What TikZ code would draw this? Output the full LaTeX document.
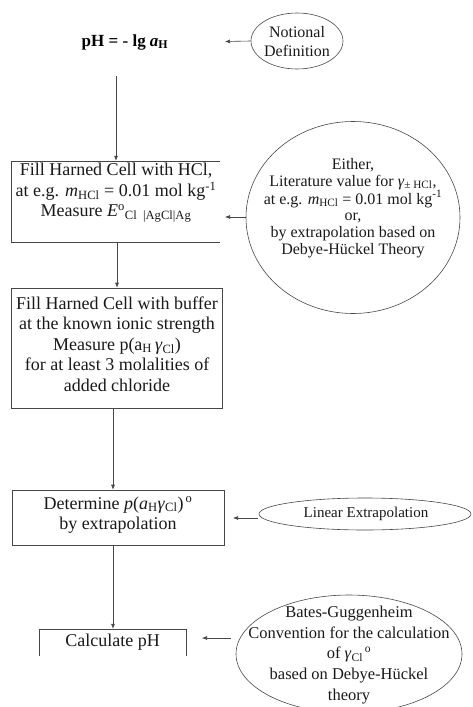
\documentclass[tikz,border=0pt]{standalone}
\usepackage{fontspec}
\setmainfont{Liberation Serif}
\usetikzlibrary{arrows.meta,shapes.geometric}
\begin{document}
\begin{tikzpicture}[x=1pt,y=-1pt,
  line/.style={draw=black!72, line width=0.6pt},
  arr/.style={line, -{Latex[length=5pt,width=4pt]}},
  boxshape/.style={rectangle, inner sep=0pt},
  ell/.style={ellipse, line, inner sep=0pt},
  boxtext/.style={font=\fontsize{18}{20.5}\selectfont, align=center, inner sep=0pt, text=black!90},
  elltext/.style={font=\fontsize{16}{16.6}\selectfont, align=center, inner sep=0pt, text=black!90},
  batestext/.style={font=\fontsize{16.5}{20.8}\selectfont, align=center, inner sep=0pt, text=black!90}]
\useasboundingbox (0,0) rectangle (472,707);
\clip (0,0) rectangle (472,707);

% title
\node[font=\fontsize{17}{20}\selectfont\bfseries, inner sep=0pt] (title) at (125,42)
  {pH = - lg \textit{a}\textsubscript{H}};
\coordinate (tstart) at (116,76);
\coordinate (tend) at (225,41.5);

% Notional definition
\node[ell, minimum width=92pt, minimum height=56pt] (notional) at (297,41) {};
\node[elltext, font=\fontsize{16}{19}\selectfont] (notionalt) at (297,42) {Notional\\Definition};

% box 1 (no right side)
\node[boxshape, minimum width=209pt, minimum height=81pt] (b1) at (115.5,201.5) {};
\draw[line] (b1.north east) -- (b1.north west) -- (b1.south west) -- (b1.south east);
\node[boxtext] (b1t) at (116,193)
  {Fill Harned Cell with HCl,\\
   at e.g. \textit{m}\textsubscript{HCl} = 0.01 mol kg\textsuperscript{-1}\\
   Measure \textit{E}\textsuperscript{o}\textsubscript{Cl\ \ |AgCl|Ag}};

% big ellipse
\node[ell, minimum width=214pt, minimum height=192pt] (lit) at (353,217.5) {};
\node[elltext] (litt) at (353,208)
  {Either,\\
   Literature value for \textit{γ}\textsubscript{± HCl},\\
   at e.g. \textit{m}\textsubscript{HCl} = 0.01 mol kg\textsuperscript{-1}\\
   or,\\
   by extrapolation based on\\
   Debye-Hückel Theory};
\coordinate (litend) at (225,217);

% box 2
\node[boxshape, line, minimum width=211pt, minimum height=120pt] (b2) at (116.5,348) {};
\node[boxtext] (b2t) at (117,344)
  {Fill Harned Cell with buffer\\
   at the known ionic strength\\
   Measure p(a\textsubscript{H}\,\textit{γ}\textsubscript{Cl})\\
   for at least 3 molalities of\\
   added chloride};

% box 3
\node[boxshape, line, minimum width=212pt, minimum height=55pt] (b3) at (118,517.5) {};
\node[boxtext] (b3t) at (118,515)
  {Determine \textit{p}(\textit{a}\textsubscript{H}\textit{γ}\textsubscript{Cl})\textsuperscript{\,o}\\
   by extrapolation};

% linear extrapolation
\node[ell, minimum width=212pt, minimum height=32pt] (lin) at (365,514) {};
\node[elltext, font=\fontsize{15}{17}\selectfont] (lint) at (366,514) {Linear Extrapolation};
\coordinate (linstart) at (258,518);
\coordinate (linend) at (233,518);

% calculate pH (open box)
\node[boxshape, minimum width=147pt, minimum height=27pt] (b4) at (112.5,642.5) {};
\draw[line] (b4.south west) -- (b4.north west) -- (b4.north east) -- (b4.south east);
\node[boxtext] (b4t) at (112.5,642) {Calculate pH};

% Bates ellipse
\node[ell, minimum width=226pt, minimum height=118pt] (bates) at (349,654) {};
\node[batestext] (batest) at (349,655)
  {Bates-Guggenheim\\
   Convention for the calculation\\
   of \textit{γ}\textsubscript{Cl}\textsuperscript{\,o}\\
   based on Debye-Hückel\\
   theory};
\coordinate (batesstart) at (231,638);
\coordinate (batesend) at (202,638);

% connectors
\draw[arr] (notional.west) -- (tend);
\draw[arr] (tstart) -- (tstart |- b1.north);
\draw[arr] (lit.west |- litend) -- (litend);
\draw[arr] (b1.south -| 117,0) -- (117,0 |- b2.north);
\draw[arr] (b2.south -| 113,0) -- (113,0 |- b3.north);
\draw[arr] (b3.south -| 113,0) -- (113,0 |- b4.north);
\draw[arr] (linstart) -- (linend);
\draw[arr] (batesstart) -- (batesend);
\end{tikzpicture}
\end{document}
